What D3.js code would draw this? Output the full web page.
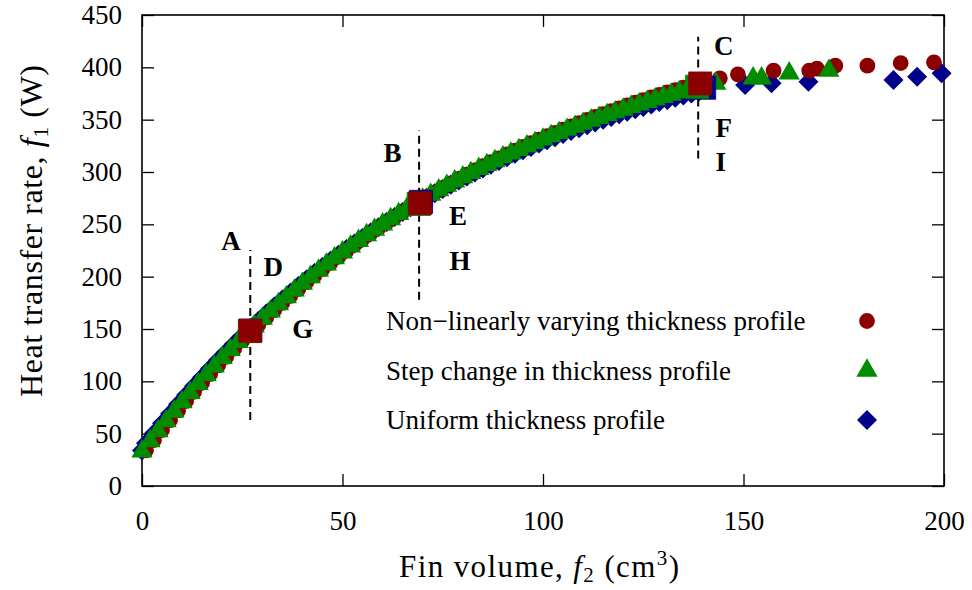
<!DOCTYPE html>
<html>
<head>
<meta charset="utf-8">
<script src="https://cdn.jsdelivr.net/npm/d3@7"></script>
<style>
  html, body { margin: 0; padding: 0; background: #fff; }
  svg { display: block; }
  text { font-family: 'Liberation Serif', 'Times New Roman', serif; fill: #000; }
</style>
</head>
<body>
<svg id="chart" width="972" height="590"></svg>
<script>
// ---- Pareto fronts: fin volume f2 (cm^3) vs. heat transfer rate f1 (W) ----

// Non-linearly varying thickness profile
const nonlinearX = [1,3,5,7,9,11,13,15,17,19,21,23,25,27,29,31,33,35,37,39,41,43,45,47,49,51,53,55,57,59,
  61,63,65,67,69,71,73,75,77,79,81,83,85,87,89,91,93,95,97,99,101,103,105,107,109,111,113,115,117,119,
  121,123,125,127,129,131,133,135,137,139,144.1,148.6,157.5,166.4,168.3,172.9,180.9,189.2,197.5];
const nonlinearY = [34.1,43.9,53.5,62.9,72.2,81.2,90.0,98.6,107.0,115.3,123.3,131.2,139.0,146.5,153.8,161.0,168.1,175.0,181.7,188.2,
  194.7,201.0,207.1,213.2,219.1,224.9,230.5,236.0,241.4,246.7,251.8,256.9,261.8,266.6,271.3,275.9,280.5,284.8,289.2,293.4,
  297.5,301.6,305.5,309.4,313.1,316.8,320.4,323.9,327.5,330.9,334.2,337.4,340.6,343.7,346.7,349.7,352.6,355.4,358.2,360.9,
  363.6,366.2,368.7,371.2,373.7,376.0,378.3,380.6,382.9,385.1,389.5,393.3,396.8,396.8,398.7,401.6,401.6,404.1,404.8];

// Step change in thickness profile
const stepX = [0,2,4,6,8,10,12,14,16,18,20,22,24,26,28,30,32,34,36,38,40,42,44,46,48,50,52,54,56,58,
  60,62,64,66,68,70,72,74,76,78,80,82,84,86,88,90,92,94,96,98,100,102,104,106,108,110,112,114,116,118,
  120,122,124,126,128,130,132,134,136,138,143.1,152.4,154.5,161.4,171.3];
const stepY = [33.0,42.9,52.5,61.9,71.1,80.2,89.0,97.6,106.0,114.2,122.3,130.1,137.8,145.3,152.6,159.8,166.8,173.7,180.4,186.9,
  193.3,199.6,205.7,211.7,217.6,223.3,228.9,234.3,239.7,244.9,250.0,255.0,259.9,264.6,269.3,273.8,278.3,282.6,286.9,291.1,
  295.1,299.1,303.0,306.8,310.5,314.1,317.7,321.1,324.5,327.8,331.1,334.3,337.3,340.4,343.3,346.2,349.1,351.8,354.5,357.2,
  359.7,362.3,364.7,367.1,369.5,371.8,374.0,376.2,378.4,380.5,384.4,389.5,389.5,394.3,396.8];

// Uniform thickness profile
const uniformX = [0,1,3,5,7,9,11,13,15,17,19,21,23,25,27,29,31,33,35,37,39,41,43,45,47,49,51,53,55,57,59,
  61,63,65,67,69,71,73,75,77,79,81,83,85,87,89,91,93,95,97,99,101,103,105,107,109,111,113,115,117,119,
  121,123,125,127,129,131,133,135,137,139,150.4,157.0,166.2,187.4,193.3,199.4];
const uniformY = [34.0,40.9,50.5,59.9,69.1,78.2,87.0,95.6,104.0,112.2,120.3,128.1,135.8,143.3,150.6,157.7,164.7,171.5,178.2,184.7,191.0,
  197.3,203.4,209.3,215.2,220.9,226.4,231.8,237.0,242.2,247.3,252.2,257.1,261.8,266.4,270.9,275.3,279.6,283.8,287.9,291.9,
  295.7,299.6,303.3,307.0,310.5,314.0,317.4,320.7,323.9,327.2,330.3,333.3,336.2,339.1,341.9,344.7,347.4,350.0,352.6,355.1,
  357.5,359.9,362.2,364.5,366.8,368.9,370.9,373.0,375.1,377.1,383.1,384.7,386.3,387.9,391.0,394.3];

// Selected designs (square markers), one per front
const selectedUniformX = [27.0, 69.6, 140.2];
const selectedUniformY = [148.5, 271.5, 380.5];
const selectedStepX = [26.9, 69.0, 138.4];
const selectedStepY = [148.0, 269.5, 381.5];
const selectedNonlinearX = [27.0, 69.3, 139.2];
const selectedNonlinearY = [148.3, 270.1, 384.6];

// Dashed markers through the selected designs
const guideX = [27.0, 69.1, 138.7];
const guideLow = [63, 178, 313];
const guideHigh = [225.5, 340, 429.3];

// Design labels (x centre, baseline)
const letterText = ["A", "D", "G", "B", "E", "H", "C", "F", "I"];
const letterX = [22.2, 32.7, 40.1, 62.5, 78.8, 79.3, 145.1, 145.1, 144.3];
const letterY = [225.5, 200.6, 141.4, 309.8, 249.4, 206.4, 411.8, 333.7, 301.2];

// Axes
const xTicks = [0, 50, 100, 150, 200];
const yTicks = [0, 50, 100, 150, 200, 250, 300, 350, 400, 450];

// Legend
const legendLabels = ["Non\u2212linearly varying thickness profile", "Step change in thickness profile", "Uniform thickness profile"];

// ---- drawing ----
const W = 972, H = 590;
const margin = { left: 142, right: 28, top: 15, bottom: 104 };
const svg = d3.select("#chart");

const x = d3.scaleLinear().domain([0, 200]).range([margin.left, W - margin.right]);
const y = d3.scaleLinear().domain([0, 450]).range([H - margin.bottom, margin.top]);

const colors = { nonlinear: "#8b0000", step: "#008b00", uniform: "#00008b" };

const diamond = {
  draw(ctx, size) {
    const r = Math.sqrt(size / 2);
    ctx.moveTo(0, -r); ctx.lineTo(r, 0); ctx.lineTo(0, r); ctx.lineTo(-r, 0); ctx.closePath();
  }
};
const symCircle = d3.symbol().type(d3.symbolCircle).size(195)();
const symTriangle = d3.symbol().type(d3.symbolTriangle).size(195)();
const symDiamond = d3.symbol().type(diamond).size(200)();
const symSquare = d3.symbol().type(d3.symbolSquare).size(530)();

// axes with inward ticks on all four sides
const tickLen = 12;
function styleAxis(g) {
  g.select(".domain").remove();
  g.selectAll(".tick line").attr("stroke", "#000").attr("stroke-width", 1.3);
  g.selectAll(".tick text").attr("font-size", 27).attr("font-family", "'Liberation Serif','Times New Roman',serif");
}
svg.append("g").attr("transform", `translate(0,${y(0)})`)
  .call(d3.axisBottom(x).tickValues(xTicks).tickFormat(d3.format("d")).tickSize(-tickLen).tickPadding(25))
  .call(styleAxis);
svg.append("g").attr("transform", `translate(0,${y(450)})`)
  .call(d3.axisTop(x).tickValues(xTicks).tickFormat("").tickSize(-tickLen))
  .call(styleAxis);
svg.append("g").attr("transform", `translate(${x(0)},0)`)
  .call(d3.axisLeft(y).tickValues(yTicks).tickFormat(d3.format("d")).tickSize(-tickLen).tickPadding(20))
  .call(styleAxis);
svg.append("g").attr("transform", `translate(${x(200)},0)`)
  .call(d3.axisRight(y).tickValues(yTicks).tickFormat("").tickSize(-tickLen))
  .call(styleAxis);

svg.append("rect")
  .attr("x", x(0)).attr("y", y(450))
  .attr("width", x(200) - x(0)).attr("height", y(0) - y(450))
  .attr("fill", "none").attr("stroke", "#000").attr("stroke-width", 1.6);

// scatter series
function drawSeries(xs, ys, path, color) {
  svg.append("g").selectAll("path")
    .data(xs.map((v, i) => [v, ys[i]]))
    .join("path")
    .attr("d", path)
    .attr("transform", d => `translate(${x(d[0])},${y(d[1])})`)
    .attr("fill", color);
}
drawSeries(uniformX, uniformY, symDiamond, colors.uniform);
drawSeries(nonlinearX, nonlinearY, symCircle, colors.nonlinear);
drawSeries(stepX, stepY, symTriangle, colors.step);

// dashed guides
svg.append("g").selectAll("line")
  .data(guideX.map((v, i) => ({ x: v, lo: guideLow[i], hi: guideHigh[i] })))
  .join("line")
  .attr("x1", d => x(d.x)).attr("x2", d => x(d.x))
  .attr("y1", d => y(d.lo)).attr("y2", d => y(d.hi))
  .attr("stroke", "#000").attr("stroke-width", 2).attr("stroke-dasharray", "8,5");

// selected designs
function drawSquares(xs, ys, color) {
  svg.append("g").selectAll("path")
    .data(xs.map((v, i) => [v, ys[i]]))
    .join("path")
    .attr("d", symSquare)
    .attr("transform", d => `translate(${x(d[0])},${y(d[1])})`)
    .attr("fill", color).attr("stroke", color).attr("stroke-width", 0.8);
}
drawSquares(selectedUniformX, selectedUniformY, colors.uniform);
drawSquares(selectedStepX, selectedStepY, colors.step);
drawSquares(selectedNonlinearX, selectedNonlinearY, colors.nonlinear);

// design letters
svg.append("g").selectAll("text")
  .data(letterText.map((t, i) => ({ t, x: letterX[i], y: letterY[i] })))
  .join("text")
  .attr("x", d => x(d.x)).attr("y", d => y(d.y))
  .attr("text-anchor", "middle")
  .attr("font-size", 27).attr("font-weight", "bold")
  .text(d => d.t);

// legend
const legendSymbols = [symCircle, symTriangle, symDiamond];
const legendColors = [colors.nonlinear, colors.step, colors.uniform];
const legend = svg.append("g");
legendLabels.forEach((label, i) => {
  const cy = 321 + i * 49.5;
  legend.append("text").attr("x", 386).attr("y", cy + 9).attr("font-size", 27).text(label);
  legend.append("path").attr("d", legendSymbols[i])
    .attr("transform", `translate(867,${cy})`).attr("fill", legendColors[i]);
});

// axis titles
const xt = svg.append("text")
  .attr("x", 539).attr("y", 577)
  .attr("text-anchor", "middle").attr("font-size", 31)
  .attr("textLength", 280).attr("lengthAdjust", "spacing");
xt.append("tspan").text("Fin volume, ");
xt.append("tspan").attr("font-style", "italic").text("f");
xt.append("tspan").attr("font-size", 21).attr("dy", 5).text("2");
xt.append("tspan").attr("dy", -5).text(" (cm");
xt.append("tspan").attr("font-size", 21).attr("dy", -12).text("3");
xt.append("tspan").attr("dy", 12).text(")");

const yt = svg.append("text")
  .attr("transform", "translate(42,231) rotate(-90)")
  .attr("text-anchor", "middle").attr("font-size", 32)
  .attr("textLength", 332).attr("lengthAdjust", "spacing");
yt.append("tspan").text("Heat transfer rate, ");
yt.append("tspan").attr("font-style", "italic").text("f");
yt.append("tspan").attr("font-size", 22).attr("dy", 6).text("1");
yt.append("tspan").attr("dy", -6).text(" (W)");
</script>
</body>
</html>
